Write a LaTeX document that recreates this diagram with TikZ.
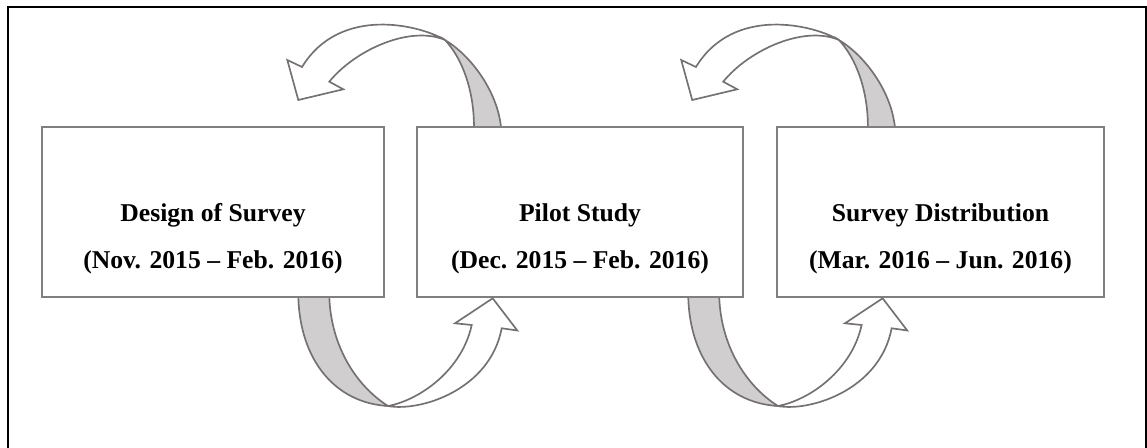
\documentclass[tikz,border=0pt]{standalone}
\usepackage{fontspec}
\setmainfont{Liberation Serif}

\definecolor{boxline}{RGB}{127,127,127}
\definecolor{arrline}{RGB}{118,113,113}
\definecolor{backfill}{RGB}{208,206,206}

\tikzset{
  stagebox/.style={draw=boxline, line width=1.2pt, fill=white, inner sep=0pt, minimum height=3.4cm},
  stagetext/.style={anchor=base, inner sep=0pt, font=\fontsize{14.6}{17}\selectfont\bfseries},
  ribbon/.style={draw=arrline, line width=0.95pt, line join=miter},
  frame/.style={draw=black, line width=0.6pt}
}

% ribbon arrow bending over the top, from a box back to the one before it
\newcommand{\ribbonover}{%
  \filldraw[ribbon, fill=backfill] (445,40) .. controls (470,55) and (497,90) .. (501,127)
    -- (474,127) .. controls (474,90) and (462,58) .. (445,40) -- cycle;
  \filldraw[ribbon, fill=white] (445,40) .. controls (420,25) and (340,5) .. (302,67)
    -- (287.3,60) -- (298.3,100) -- (343.3,89.3) -- (329.3,81.7)
    .. controls (355,50) and (410,25) .. (445,40) -- cycle;
}
% ribbon arrow bending underneath, from a box forward to the next one
\newcommand{\ribbonunder}{%
  \filldraw[ribbon, fill=backfill] (298.3,297) .. controls (300,360) and (335,403) .. (388,406)
    .. controls (355,385) and (331,345) .. (329.3,297) -- cycle;
  \filldraw[ribbon, fill=white] (388,406) .. controls (420,412) and (490,390) .. (501.7,328.3)
    -- (517.3,330.5) -- (492.7,298.3) -- (455,323.3) -- (471.7,325)
    .. controls (462,370) and (420,400) .. (388,406) -- cycle;
}

\begin{document}
\begin{tikzpicture}[x=0.02cm, y=-0.02cm]
  \useasboundingbox (0,0) rectangle (1147,448);
  \clip (0,0) rectangle (1147,448);

  % page frame
  \draw[frame] (8,470) |- (1146,7) -- (1146,470);

  % ribbons (drawn first so the boxes cover their ends)
  \ribbonover
  \begin{scope}[xshift=7.88cm]\ribbonover\end{scope}
  \ribbonunder
  \begin{scope}[xshift=7.80cm]\ribbonunder\end{scope}

  % stages
  \node[stagebox, minimum width=6.84cm] (design) at (213,212) {};
  \node[stagebox, minimum width=6.52cm] (pilot)  at (580,212) {};
  \node[stagebox, minimum width=6.54cm] (distrib) at (940.5,212) {};

  \node[stagetext] (designA) at (design.center |- 0,222) {Design of Survey};
  \node[stagetext] (designB) at (design.center |- 0,269) {(Nov. 2015 – Feb. 2016)};
  \node[stagetext] (pilotA) at (pilot.center |- 0,222) {Pilot Study};
  \node[stagetext] (pilotB) at (pilot.center |- 0,269) {(Dec. 2015 – Feb. 2016)};
  \node[stagetext] (distribA) at (distrib.center |- 0,222) {Survey Distribution};
  \node[stagetext] (distribB) at (distrib.center |- 0,269) {(Mar. 2016 – Jun. 2016)};
\end{tikzpicture}
\end{document}
